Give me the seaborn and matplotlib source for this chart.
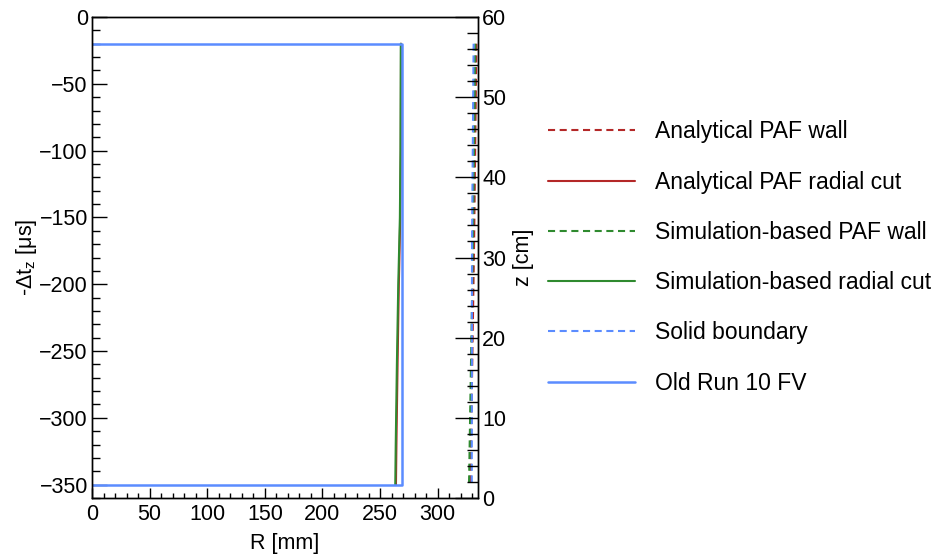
import matplotlib
matplotlib.use('Agg')
import matplotlib.pyplot as plt
from matplotlib.ticker import MultipleLocator
import pandas as pd
import seaborn as sns

# series, in drawing / legend order
names = ['Analytical PAF wall', 'Analytical PAF radial cut',
         'Simulation-based PAF wall', 'Simulation-based radial cut',
         'Solid boundary', 'Old Run 10 FV']

wall_dt = [-20, -170, -350]
ana_wall_r = [333.6, 331.6, 328.4]
sim_wall_r = [332.6, 330.6, 327.2]
solid_r = [331.2, 329.8, 329.6]

cut_dt = [-20, -100, -150, -200, -260, -320, -350]
ana_cut_r = [268.2, 268.0, 267.5, 266.3, 265.2, 264.2, 263.8]
sim_cut_r = [268.0, 267.7, 267.2, 265.8, 264.6, 263.6, 263.2]

fv_r = [0, 269.2, 269.2, 0]
fv_dt = [-20, -20, -350, -350]

series_r = [ana_wall_r, ana_cut_r, sim_wall_r, sim_cut_r, solid_r, fv_r]
series_dt = [wall_dt, cut_dt, wall_dt, cut_dt, wall_dt, fv_dt]

rows = []
for name, rr, dd in zip(names, series_r, series_dt):
    for i, (r, d) in enumerate(zip(rr, dd)):
        rows.append({'series': name, 'R': r, 'dt': d, 'i': i})
df = pd.DataFrame(rows)

red, green, blue = '#b42828', '#2f8a2f', '#5b8cff'
dash = (0, (3.4, 2.2))
styles = {
    'Analytical PAF wall': (red, dash, 1.5),
    'Analytical PAF radial cut': (red, '-', 1.5),
    'Simulation-based PAF wall': (green, dash, 1.5),
    'Simulation-based radial cut': (green, '-', 1.5),
    'Solid boundary': (blue, dash, 1.5),
    'Old Run 10 FV': (blue, '-', 1.8),
}

sns.set_style('white')
plt.rcParams['font.family'] = ['Liberation Sans', 'DejaVu Sans']
plt.rcParams['axes.linewidth'] = 1.0
for k in ['text.color', 'axes.labelcolor', 'xtick.color', 'ytick.color',
          'xtick.labelcolor', 'ytick.labelcolor', 'axes.edgecolor']:
    plt.rcParams[k] = 'black'

fig = plt.figure(figsize=(9.39, 5.54), dpi=100)
ax = fig.add_axes([92 / 939, 1 - 498 / 554, (478 - 92) / 939, (498 - 17) / 554])

for name in names:
    c, ls, lw = styles[name]
    sub = df[df.series == name]
    sns.lineplot(data=sub, x='R', y='dt', sort=False, estimator=None,
                 color=c, linestyle=ls, linewidth=lw, label=name, ax=ax)

ax.set_xlim(0, 335)
ax.set_ylim(-360, 0)
ax.xaxis.set_major_locator(MultipleLocator(50))
ax.xaxis.set_minor_locator(MultipleLocator(10))
ax.yaxis.set_major_locator(MultipleLocator(50))
ax.yaxis.set_minor_locator(MultipleLocator(10))
ax.tick_params(axis='x', which='both', direction='in', bottom=True, top=False,
               labelsize=15.5, pad=4)
ax.tick_params(axis='x', which='major', length=7.5, width=1)
ax.tick_params(axis='x', which='minor', length=3.8, width=1)
ax.tick_params(axis='y', which='both', direction='in', left=True, right=False,
               labelsize=15.5, pad=3)
ax.tick_params(axis='y', which='major', length=11, width=1)
ax.tick_params(axis='y', which='minor', length=5.8, width=1)
ax.set_xlabel('R [mm]', fontsize=15.5, labelpad=6)
ax.set_ylabel('-Δt$_\\mathregular{z}$ [μs]', fontsize=15.5, labelpad=0)

ax2 = ax.twinx()
ax2.set_ylim(0, 60)
ax2.yaxis.set_major_locator(MultipleLocator(10))
ax2.yaxis.set_minor_locator(MultipleLocator(2))
ax2.tick_params(axis='y', which='both', direction='in', right=True, left=False,
                labelsize=15.5, pad=3)
ax2.tick_params(axis='y', which='major', length=16.5, width=1)
ax2.tick_params(axis='y', which='minor', length=8, width=1)
ax2.set_ylabel('z [cm]', fontsize=15.5, labelpad=5)

handles, labels = ax.get_legend_handles_labels()
ax.legend(handles, labels, loc='center left', bbox_to_anchor=(548 / 939, 1 - 257.5 / 554),
          bbox_transform=fig.transFigure, frameon=False, fontsize=16.5,
          handlelength=3.8, handletextpad=0.87, labelspacing=1.19,
          borderpad=0, borderaxespad=0)

fig.savefig('out.png', dpi=100)
